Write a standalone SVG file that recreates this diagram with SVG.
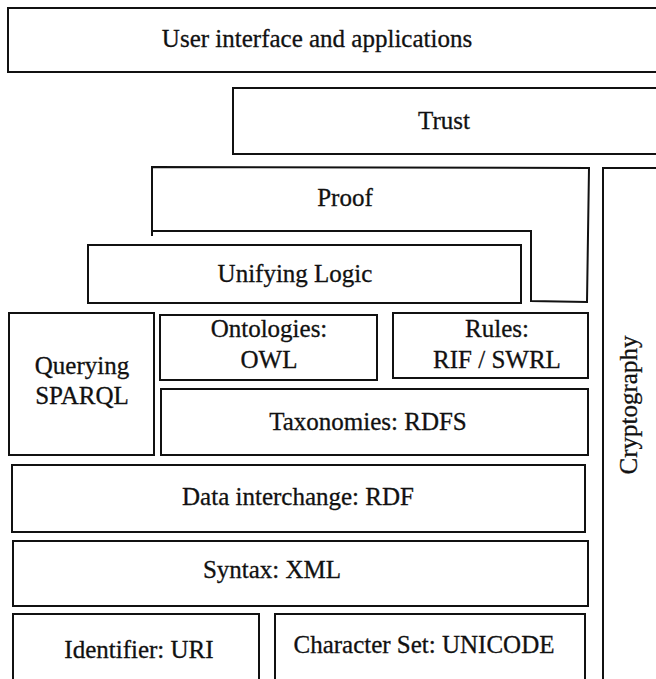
<svg xmlns="http://www.w3.org/2000/svg" width="656" height="679" viewBox="0 0 656 679">
<style>
.b{fill:#fff;stroke:#111;stroke-width:2}
.t{font-family:'Liberation Serif','Times New Roman',Times,'DejaVu Serif',serif;font-size:25px;fill:#111;stroke:#111;stroke-width:0.3;text-anchor:middle}
</style>
<rect width="656" height="679" fill="#fff"/>
<g id="ui"><rect class="b" x="8" y="8" width="660" height="64"/><text class="t" x="317" y="47">User interface and applications</text></g>
<g id="trust"><rect class="b" x="233" y="88" width="440" height="66"/><text class="t" x="444" y="129">Trust</text></g>
<g id="crypto"><rect class="b" x="603" y="168" width="70" height="530"/><text class="t" transform="translate(637,405) rotate(-90)" x="0" y="0">Cryptography</text></g>
<g id="proof"><path class="b" d="M152,167 L589,168 L587,302 L531,301 L531,231 L152,231 Z M152,231 L152,236"/><text class="t" x="345" y="206">Proof</text></g>
<g id="logic"><rect class="b" x="88" y="245" width="433" height="58"/><text class="t" x="295" y="282">Unifying Logic</text></g>
<g id="query"><rect class="b" x="9" y="313" width="145" height="142"/><text class="t" x="82" y="374">Querying</text><text class="t" x="82" y="404">SPARQL</text></g>
<g id="owl"><rect class="b" x="160" y="315" width="217" height="65"/><text class="t" x="269" y="337">Ontologies:</text><text class="t" x="269" y="368">OWL</text></g>
<g id="rules"><rect class="b" x="393" y="313" width="195" height="65"/><text class="t" x="497" y="337">Rules:</text><text class="t" x="497" y="368">RIF / SWRL</text></g>
<g id="rdfs"><rect class="b" x="161" y="389" width="427" height="66"/><text class="t" x="368" y="430">Taxonomies: RDFS</text></g>
<g id="rdf"><rect class="b" x="12" y="465" width="573" height="67"/><text class="t" x="298" y="505">Data interchange: RDF</text></g>
<g id="xml"><rect class="b" x="13" y="541" width="575" height="65"/><text class="t" x="272" y="578">Syntax: XML</text></g>
<g id="uri"><rect class="b" x="13" y="614" width="246" height="80"/><text class="t" x="139" y="658">Identifier: URI</text></g>
<g id="unicode"><rect class="b" x="275" y="614" width="310" height="80"/><text class="t" x="424" y="653">Character Set: UNICODE</text></g>
<g id="connectors"></g>
</svg>
